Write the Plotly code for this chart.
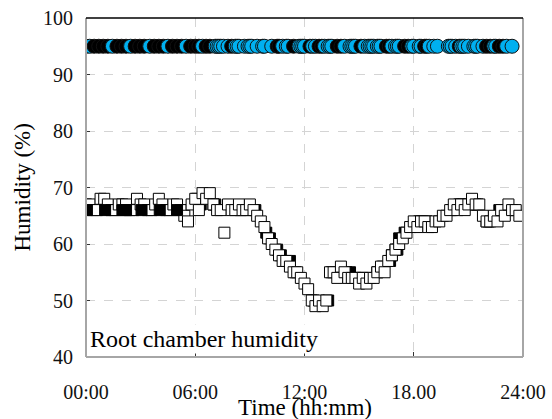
import plotly.graph_objects as go

# ---- data ----
sq_time = [0.0, 0.2, 0.4, 0.6, 0.8, 1.0, 1.2, 1.4, 1.6, 1.8, 2.0, 2.2, 2.4, 2.6, 2.8, 3.0, 3.2, 3.4, 3.6, 3.8,
           4.0, 4.2, 4.4, 4.6, 4.8, 5.0, 5.2, 5.4, 5.6, 5.8, 6.0, 6.2, 6.4, 6.6, 6.8, 7.0, 7.2, 7.4, 7.6, 7.8,
           8.0, 8.2, 8.4, 8.6, 8.8, 9.0, 9.2, 9.4, 9.6, 9.8, 10.0, 10.2, 10.4, 10.6, 10.8, 11.0, 11.2, 11.4, 11.6, 11.8,
           12.0, 12.2, 12.4, 12.6, 12.8, 13.0, 13.2, 13.4, 13.6, 13.8, 14.0, 14.2, 14.4, 14.6, 14.8, 15.0, 15.2, 15.4, 15.6, 15.8,
           16.0, 16.2, 16.4, 16.6, 16.8, 17.0, 17.2, 17.4, 17.6, 17.8, 18.0, 18.2, 18.4, 18.6, 18.8, 19.0, 19.2, 19.4, 19.6, 19.8,
           20.0, 20.2, 20.4, 20.6, 20.8, 21.0, 21.2, 21.4, 21.6, 21.8, 22.0, 22.2, 22.4, 22.6, 22.8, 23.0, 23.2, 23.4, 23.6, 23.8]
sq_hum = [67, 67, 66, 66, 68, 68, 67, 66, 66, 67, 67, 67, 66, 66, 68, 67, 67, 66, 66, 67,
          68, 67, 66, 66, 67, 67, 66, 65, 64, 67, 68, 66, 69, 68, 69, 67, 66, 66, 62, 67,
          66, 66, 67, 66, 66, 67, 66, 65, 64, 63, 61, 60, 59, 58, 57, 57, 56, 55, 55, 54,
          53, 52, 50, 49, 50, 49, 50, 55, 55, 54, 56, 55, 54, 54, 54, 53, 54, 53, 54, 54,
          55, 56, 55, 57, 58, 59, 60, 61, 62, 63, 64, 63, 64, 64, 63, 63, 64, 64, 65, 65,
          66, 67, 66, 67, 66, 67, 68, 67, 67, 65, 64, 64, 65, 64, 66, 65, 67, 66, 66, 65]

# night-time black readings (visible as solid blocks)
blk_early_time = [0.05, 1.05, 2.0, 2.2, 3.05, 4.05, 5.0]
blk_early_hum = [66, 66, 66, 66, 66, 66, 66]

# later black readings (mostly hidden behind the open squares)
blk_late_time = [6.1, 6.3, 7.0, 7.1, 8.5, 9.3, 9.9, 10.1, 10.5, 10.7, 11.2, 11.5, 12.5, 13.3, 13.5,
                 14.3, 14.5, 15.0, 15.2, 16.0, 16.3, 16.7, 16.8, 17.0, 17.1, 17.2, 17.5, 18.3, 18.5, 18.7,
                 20.1, 20.5, 20.7, 21.3, 21.5, 22.0, 22.1, 22.7, 23.3]
blk_late_hum = [68, 67, 67, 67, 66, 66, 62, 61, 59, 58, 57, 55, 50, 50, 55,
                55, 55, 54, 54, 55, 56, 57, 58, 59, 59, 61, 62, 64, 64, 64,
                66, 67, 67, 67, 67, 64, 64, 66, 66]

circ_time = [0.0, 0.2, 0.45, 0.7, 0.95, 1.2, 1.45, 1.7, 1.95, 2.2, 2.45, 2.7, 2.95, 3.2, 3.5, 3.75, 4.0, 4.25,
             4.5, 4.75, 5.0, 5.25, 5.5, 5.75, 6.0, 6.2, 6.4, 6.6, 6.8, 7.1, 7.2, 7.3, 7.4, 7.55, 7.8, 8.0,
             8.2, 8.3, 8.4, 8.7, 8.9, 9.0, 9.1, 9.4, 9.7, 9.8, 10.2, 10.5, 10.6, 10.8, 11.0, 11.1, 11.4,
             11.7, 11.8, 11.9, 12.0, 12.3, 12.45, 12.6, 12.8, 12.95, 13.1, 13.3, 13.4, 13.5, 13.8, 14.0,
             14.2, 14.5, 14.6, 14.7, 14.8, 15.1, 15.3, 15.5, 15.6, 15.7, 15.8, 16.0, 16.1, 16.2, 16.5,
             16.65, 16.8, 17.0, 17.1, 17.2, 17.5, 17.7, 17.9, 18.0, 18.3, 18.4, 18.6, 18.7, 18.85, 19.1,
             19.3, 19.9, 20.0, 20.1, 20.3, 20.5, 20.6, 20.7, 20.8, 21.0, 21.3, 21.4, 21.5, 21.8, 22.0,
             22.2, 22.4, 22.5, 22.7, 22.9, 23.1, 23.4]
circ_src = ['K', 'B', 'K', 'K', 'K', 'K', 'B', 'K', 'K', 'K', 'B', 'K', 'K', 'K', 'B', 'K', 'K', 'K',
            'B', 'K', 'K', 'K', 'B', 'K', 'K', 'K', 'B', 'K', 'K', 'B', 'B', 'B', 'B', 'B', 'B', 'K',
            'B', 'B', 'B', 'B', 'B', 'B', 'B', 'B', 'B', 'B', 'B', 'K', 'K', 'B', 'B', 'B', 'K',
            'B', 'B', 'B', 'B', 'K', 'B', 'B', 'K', 'K', 'B', 'B', 'B', 'B', 'K', 'K',
            'B', 'B', 'B', 'B', 'B', 'K', 'B', 'B', 'B', 'B', 'B', 'B', 'B', 'B', 'K',
            'K', 'B', 'B', 'B', 'B', 'K', 'K', 'B', 'B', 'B', 'B', 'K', 'K', 'B', 'B',
            'B', 'B', 'B', 'B', 'B', 'K', 'B', 'B', 'B', 'B', 'B', 'B', 'B', 'B', 'K',
            'K', 'B', 'B', 'K', 'K', 'B', 'B']
circ_hum = [95] * len(circ_time)

x_ticks = [0, 6, 12, 18, 24]
x_labels = ["00:00", "06:00", "12:00", "18.00", "24:00"]
y_ticks = [40, 50, 60, 70, 80, 90, 100]

FONT = "Liberation Serif"
BLUE = "#00B0F0"

blk_marker = dict(symbol="square", size=11, color="black", line=dict(color="black", width=1))

fig = go.Figure()
fig.add_trace(go.Scatter(x=blk_late_time, y=blk_late_hum, mode="markers",
                         marker=blk_marker, showlegend=False))
fig.add_trace(go.Scatter(
    x=sq_time, y=sq_hum, mode="markers",
    marker=dict(symbol="square", size=11, color="white", line=dict(color="black", width=1)),
    showlegend=False))
fig.add_trace(go.Scatter(x=blk_early_time, y=blk_early_hum, mode="markers",
                         marker=blk_marker, showlegend=False))
fig.add_trace(go.Scatter(
    x=circ_time, y=circ_hum, mode="markers",
    marker=dict(symbol="circle", size=14,
                color=[BLUE if s == 'B' else "black" for s in circ_src],
                line=dict(color="#111111", width=1)),
    showlegend=False))

fig.add_annotation(x=0, y=40, xref="x", yref="y", xanchor="left", yanchor="bottom",
                   text="Root chamber humidity", showarrow=False,
                   font=dict(family=FONT, size=24, color="black"),
                   bgcolor="white", xshift=2, yshift=3, borderpad=1)
fig.add_annotation(x=0.5, y=0, xref="paper", yref="paper", xanchor="center", yanchor="top",
                   text="Time (hh:mm)", showarrow=False, yshift=-36,
                   font=dict(family=FONT, size=23, color="black"))
fig.add_annotation(x=0, y=0.5, xref="paper", yref="paper", xanchor="center", yanchor="middle",
                   text="Humidity (%)", showarrow=False, textangle=-90, xshift=-64,
                   font=dict(family=FONT, size=23, color="black"))

GRAY = "#a6a6a6"
fig.update_layout(
    width=552, height=419,
    margin=dict(l=86, r=29, t=18, b=62),
    paper_bgcolor="white", plot_bgcolor="white",
    font=dict(family=FONT, size=20, color="#111111"),
    xaxis=dict(range=[0, 24], tickvals=x_ticks, ticktext=x_labels,
               ticks="inside", ticklen=5, tickcolor="#333333", tickwidth=1,
               ticklabelstandoff=21, automargin=False,
               tickfont=dict(family=FONT, size=20),
               showgrid=True, gridcolor="#d4d4d4", griddash="dash", gridwidth=1,
               zeroline=False, showline=False),
    yaxis=dict(range=[40, 100], tickvals=y_ticks,
               ticks="inside", ticklen=4, tickcolor="#333333", tickwidth=1,
               ticklabelstandoff=12, automargin=False,
               tickfont=dict(family=FONT, size=20),
               showgrid=True, gridcolor="#d4d4d4", griddash="dash", gridwidth=1,
               zeroline=False, showline=False),
    shapes=[
        dict(type="line", xref="paper", yref="paper", x0=0, x1=0, y0=0, y1=1, line=dict(color=GRAY, width=2)),
        dict(type="line", xref="paper", yref="paper", x0=1, x1=1, y0=0, y1=1, line=dict(color=GRAY, width=2)),
        dict(type="line", xref="paper", yref="paper", x0=0, x1=1, y0=0, y1=0, line=dict(color=GRAY, width=2)),
        dict(type="line", xref="paper", yref="paper", x0=0, x1=1, y0=1, y1=1, line=dict(color="black", width=1.5)),
    ],
)

fig.write_html("out.html")
